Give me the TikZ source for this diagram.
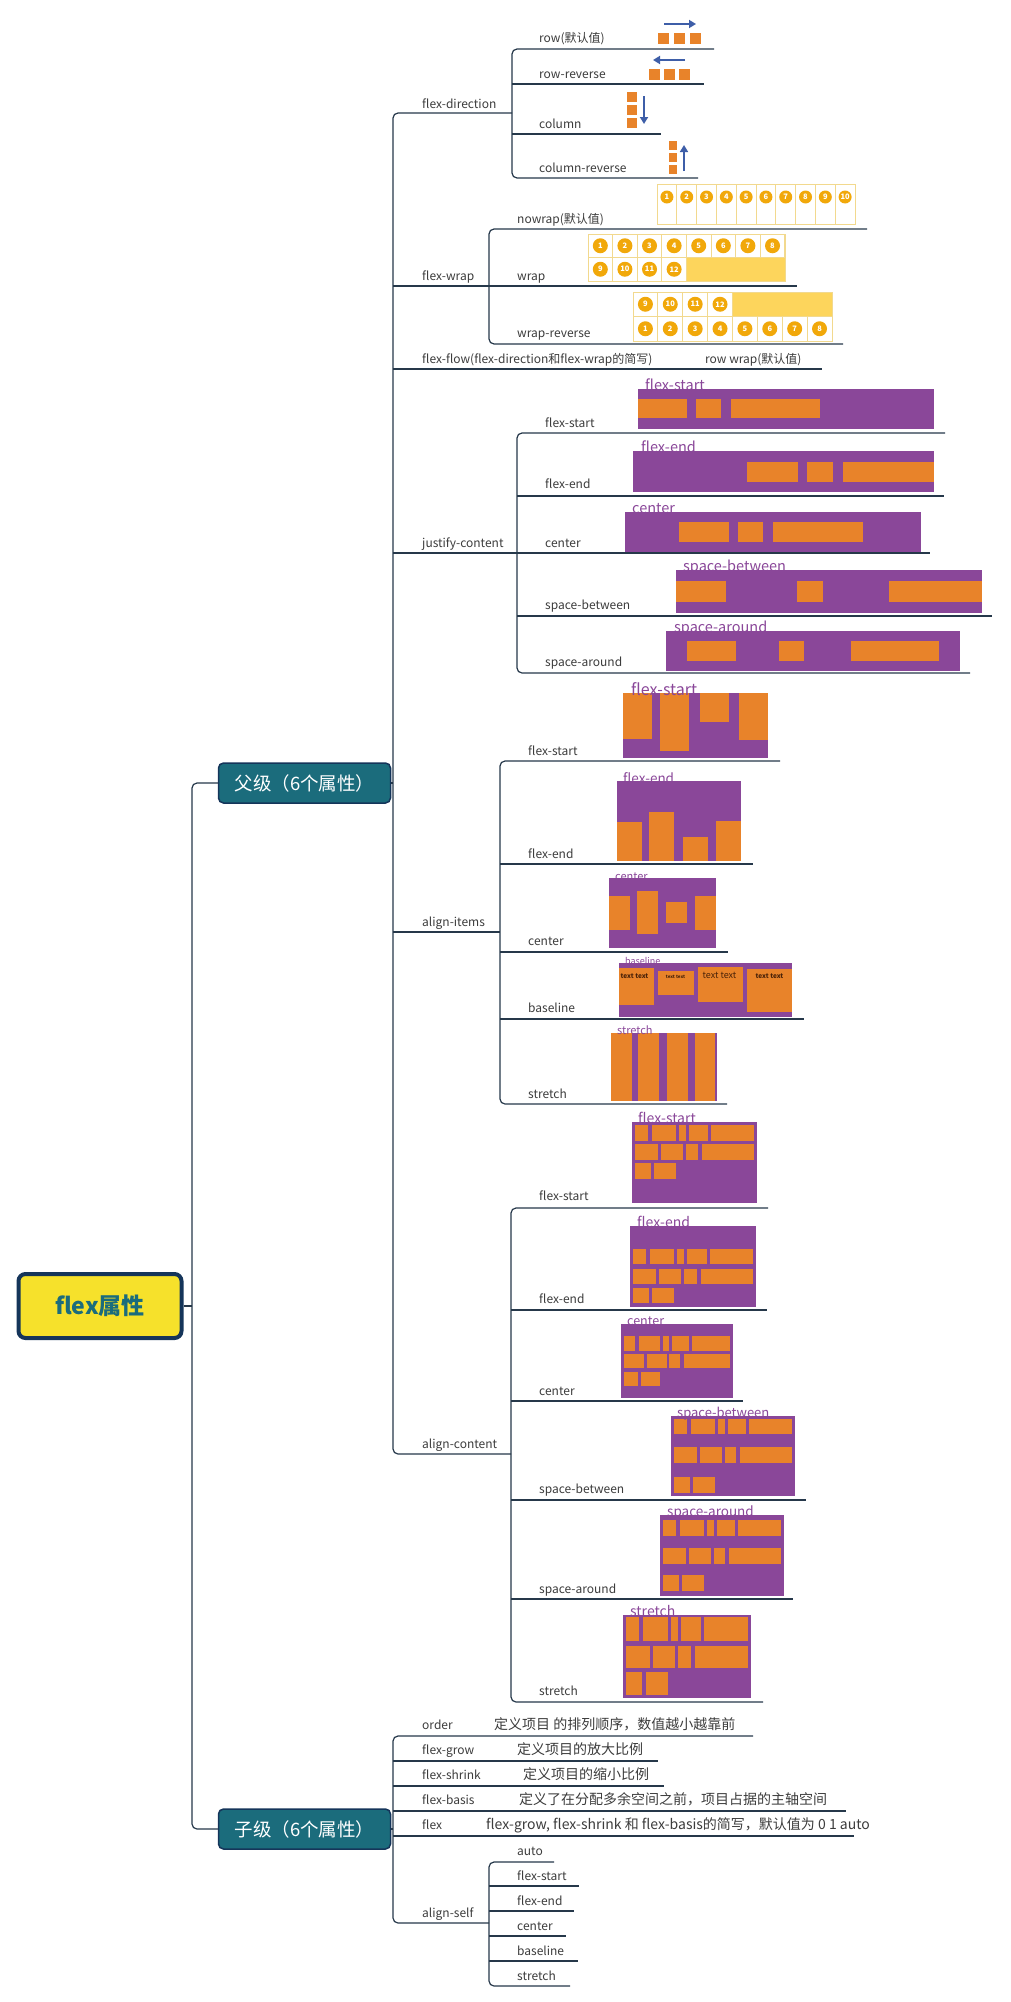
\documentclass[tikz,border=0pt]{standalone}
\usepackage{fontspec}
\setmainfont{Noto Sans CJK SC}
\usetikzlibrary{positioning,arrows.meta}

\definecolor{branch}{HTML}{26384A}
\definecolor{txt}{HTML}{3C3C3C}
\definecolor{purp}{HTML}{8A4799}
\definecolor{orng}{HTML}{E8832A}
\definecolor{tealc}{HTML}{1B6C7C}
\definecolor{navy}{HTML}{15355A}
\definecolor{rootfill}{HTML}{F6E12B}
\definecolor{arrowblue}{HTML}{3E5EA8}
\definecolor{cellline}{HTML}{F2D98E}
\definecolor{cellfill}{HTML}{FDD55C}
\definecolor{ballc}{HTML}{F1A80A}
\definecolor{inktext}{HTML}{4A2208}

\tikzset{
    x=1pt,
    y=-1pt,
    >={Triangle[length=7pt,width=8pt]},
    br/.style = {
        draw=branch,
        line width=1.2pt
    },
    trunk/.style = {
        br,
        rounded corners=5pt
    },
    lbl/.style = {
        anchor=base west,
        inner sep=0pt,
        text=txt,
        font=\fontsize{12}{14}\selectfont
    },
    desc/.style = {
        lbl,
        font=\fontsize{14}{16}\selectfont
    },
    root/.style = {
        draw=navy,
        fill=rootfill,
        line width=4pt,
        rounded corners=7pt,
        minimum width=163pt,
        minimum height=64pt,
        text=tealc,
        font=\bfseries\fontsize{23}{25}\selectfont
    },
    grpbox/.style = {
        draw=navy,
        fill=tealc,
        line width=1.5pt,
        rounded corners=5pt,
        minimum width=172pt,
        minimum height=40pt,
        text=white,
        font=\fontsize{18.5}{20}\selectfont
    },
    ptag/.style = {
        anchor=base west,
        inner sep=0pt,
        text=purp
    },
    pbg/.style = {fill=purp},
    sq/.style = {fill=orng},
    dir/.style = {
        ->,
        draw=arrowblue,
        line width=2.2pt
    },
    cell/.style = {
        draw=cellline,
        line width=0.9pt
    },
    ball/.style = {
        circle,
        fill=ballc,
        inner sep=0pt,
        minimum size=13pt,
        text=white,
        font=\bfseries\fontsize{7.5}{8}\selectfont
    },
    sample/.style = {
        anchor=base,
        inner sep=0pt,
        text=inktext,
        font=\bfseries
    },
}

\begin{document}
\begin{tikzpicture}
    \fill[white] (0,0) rectangle (1011,2002);

    % root and the two groups
    \node[root] (flex) at (100,1306) {flex属性};
    \node[grpbox] (parent) at (304.5,783) {父级（6个属性）};
    \node[grpbox] (child) at (304.5,1829) {子级（6个属性）};
    \coordinate (rootj) at (192,1306);
    \path[br] (flex.east) -- (rootj);
    \path[trunk] (parent.west) -| (rootj) |- (child.west);

    % parent branches
    \coordinate (pj) at (393,783);
    \coordinate (fdj) at (512,113);
    \coordinate (fwj) at (489,286);
    \coordinate (ffe) at (822,369);
    \coordinate (jcj) at (517,553);
    \coordinate (aij) at (500,932);
    \coordinate (acj) at (511,1454);
    \path[br] (parent.east) -- (pj);
    \path[trunk] (fdj) -| (pj) |- (acj);
    \path[br] (pj |- fwj) -- (fwj);
    \path[br] (pj |- ffe) -- (ffe);
    \path[br] (pj |- jcj) -- (jcj);
    \path[br] (pj |- aij) -- (aij);

    % flex-direction
    \node[lbl] (fd) at (422,108) {flex-direction};
    \coordinate (rowe) at (714,49);
    \coordinate (rrve) at (704,84);
    \coordinate (cole) at (661,134);
    \coordinate (crve) at (698,178);
    \path[trunk] (rowe) -| (fdj) |- (crve);
    \path[br] (fdj |- rrve) -- (rrve);
    \path[br] (fdj |- cole) -- (cole);
    \node[lbl] (row) at (539,43) {row(默认值)};
    \node[lbl] (rowrev) at (539,78) {row-reverse};
    \node[lbl] (col) at (539,128) {column};
    \node[lbl] (colrev) at (539,172) {column-reverse};
    \draw[dir] (664,24) -- (696,24);
    \foreach \i in {0,1,2} \fill[sq] (658+16*\i,33) rectangle ++(11,11);
    \draw[dir] (685,60) -- (653,60);
    \foreach \i in {0,1,2} \fill[sq] (649+15*\i,69) rectangle ++(11,11);
    \foreach \i in {0,1,2} \fill[sq] (627,92+13*\i) rectangle ++(10,10);
    \draw[dir] (644,96) -- (644,124);
    \foreach \i in {0,1,2} \fill[sq] (669,141+12*\i) rectangle ++(8,9);
    \draw[dir, line width=1.6pt] (684,171) -- (684,145);

    % flex-wrap
    \node[lbl] (fw) at (422,280) {flex-wrap};
    \coordinate (nwe) at (867,229);
    \coordinate (wre) at (797,286);
    \coordinate (wrre) at (843,344);
    \path[trunk] (nwe) -| (fwj) |- (wrre);
    \path[br] (fwj) -- (wre);
    \node[lbl] (nowrap) at (517,223) {nowrap(默认值)};
    \node[lbl] (wrap) at (517,280) {wrap};
    \node[lbl] (wraprev) at (517,337) {wrap-reverse};
    \foreach \i [count=\n] in {0,...,9} {
        \draw[cell] (657+19.8*\i,184) rectangle ++(19.8,40);
        \node[ball] (nw\n) at (666.9+19.8*\i,197) {\n};
    }
    \fill[cellfill] (686.4,257.5) rectangle (785,281);
    \foreach \i [count=\n] in {0,...,7} {
        \draw[cell] (588+24.6*\i,234) rectangle ++(24.6,23.5);
        \node[ball, minimum size=15pt] (wa\n) at (600.3+24.6*\i,245.75) {\n};
    }
    \foreach \i [count=\n from 9] in {0,...,3} {
        \draw[cell] (588+24.6*\i,257.5) rectangle ++(24.6,23.5);
        \node[ball, minimum size=15pt] (wb\n) at (600.3+24.6*\i,269.25) {\n};
    }
    \draw[cell] (588,234) rectangle (785,281);
    \fill[cellfill] (732.5,292) rectangle (832,316.5);
    \foreach \i [count=\n from 9] in {0,...,3} {
        \draw[cell] (633+24.875*\i,292) rectangle ++(24.875,24.5);
        \node[ball, minimum size=15pt] (ra\n) at (645.4+24.875*\i,304.25) {\n};
    }
    \foreach \i [count=\n] in {0,...,7} {
        \draw[cell] (633+24.875*\i,316.5) rectangle ++(24.875,24.5);
        \node[ball, minimum size=15pt] (rb\n) at (645.4+24.875*\i,328.75) {\n};
    }
    \draw[cell] (633,292) rectangle (832,341);

    % flex-flow
    \node[lbl] (ff) at (422,363) {flex-flow(flex-direction和flex-wrap的简写)};
    \node[lbl] (ffdef) at (705,363) {row wrap(默认值)};

    % justify-content
    \node[lbl] (jc) at (422,547) {justify-content};
    \coordinate (jfse) at (945,433);
    \coordinate (jfee) at (944,496);
    \coordinate (jcee) at (930,553);
    \coordinate (jsbe) at (992,616);
    \coordinate (jsae) at (970,673);
    \path[trunk] (jfse) -| (jcj) |- (jsae);
    \path[br] (jcj |- jfee) -- (jfee);
    \path[br] (jcj) -- (jcee);
    \path[br] (jcj |- jsbe) -- (jsbe);
    \node[lbl] (jcfs) at (545,427) {flex-start};
    \node[lbl] (jcfe) at (545,488) {flex-end};
    \node[lbl] (jcce) at (545,547) {center};
    \node[lbl] (jcsb) at (545,609) {space-between};
    \node[lbl] (jcsa) at (545,666) {space-around};
    \fill[pbg] (638,389) rectangle (934,429);
    \foreach \a/\b in {638/687,696/721,731/820} \fill[sq] (\a,399) rectangle (\b,418);
    \node[ptag, font=\fontsize{14.5}{15}\selectfont] (jcfst) at (645,390) {flex-start};
    \fill[pbg] (633,451) rectangle (934,492);
    \foreach \a/\b in {747/798,807/833,843/934} \fill[sq] (\a,462) rectangle (\b,482);
    \node[ptag, font=\fontsize{14.5}{15}\selectfont] (jcfet) at (641,452) {flex-end};
    \fill[pbg] (625,512) rectangle (921,552);
    \foreach \a/\b in {679/729,738/763,773/863} \fill[sq] (\a,522) rectangle (\b,542);
    \node[ptag, font=\fontsize{14.5}{15}\selectfont] (jccet) at (632,513) {center};
    \fill[pbg] (676,570) rectangle (982,613);
    \foreach \a/\b in {676/726,797/823,889/982} \fill[sq] (\a,581) rectangle (\b,602);
    \node[ptag, font=\fontsize{14.5}{15}\selectfont] (jcsbt) at (683,571) {space-between};
    \fill[pbg] (666,631) rectangle (960,671);
    \foreach \a/\b in {687/736,779/804,851/939} \fill[sq] (\a,641) rectangle (\b,661);
    \node[ptag, font=\fontsize{14.5}{15}\selectfont] (jcsat) at (674,632) {space-around};

    % align-items
    \node[lbl] (ai) at (422,926) {align-items};
    \coordinate (afse) at (780,761);
    \coordinate (afee) at (753,864);
    \coordinate (acee) at (728,952);
    \coordinate (able) at (804,1019);
    \coordinate (aste) at (727,1104);
    \path[trunk] (afse) -| (aij) |- (aste);
    \path[br] (aij |- afee) -- (afee);
    \path[br] (aij |- acee) -- (acee);
    \path[br] (aij |- able) -- (able);
    \node[lbl] (aifs) at (528,755) {flex-start};
    \node[lbl] (aife) at (528,858) {flex-end};
    \node[lbl] (aice) at (528,945) {center};
    \node[lbl] (aibl) at (528,1012) {baseline};
    \node[lbl] (aist) at (528,1098) {stretch};
    \fill[pbg] (623,693) rectangle (768,758);
    \foreach \a/\b/\c in {623/652/739,660/689/751,700/729/722,739/768/740} \fill[sq] (\a,693) rectangle (\b,\c);
    \node[ptag, font=\fontsize{16}{16}\selectfont] (aifst) at (631,695) {flex-start};
    \fill[pbg] (617,781) rectangle (741,861);
    \foreach \a/\b/\c in {617/642/822,649/674/812,683/708/837,716/741/821} \fill[sq] (\a,\c) rectangle (\b,861);
    \node[ptag, font=\fontsize{13.5}{14}\selectfont] (aifet) at (623,783) {flex-end};
    \fill[pbg] (609,878) rectangle (716,948);
    \foreach \a/\b/\c/\d in {609/630/896/930,637/658/891/934,666/687/902/923,695/716/896/930} \fill[sq] (\a,\c) rectangle (\b,\d);
    \node[ptag, font=\fontsize{11}{12}\selectfont] (aicet) at (615,880) {center};
    \fill[pbg] (619,963) rectangle (792,1017);
    \foreach \a/\b/\c/\d in {619/654/968/1005,658/694/971/995,698/743/967/1002,747/792/969/1012} \fill[sq] (\a,\c) rectangle (\b,\d);
    \node[ptag, font=\fontsize{9}{10}\selectfont] (aiblt) at (625,964) {baseline};
    \node[sample, font=\bfseries\fontsize{6.5}{7}\selectfont] (bt1) at (634.5,978) {text text};
    \node[sample, font=\bfseries\fontsize{4.5}{5}\selectfont] (bt2) at (675.5,978) {text text};
    \node[sample, font=\fontsize{9}{10}\selectfont] (bt3) at (719.5,978) {text text};
    \node[sample, font=\bfseries\fontsize{6.5}{7}\selectfont] (bt4) at (769.5,978) {text text};
    \fill[pbg] (611,1033) rectangle (717,1101);
    \foreach \a/\b in {611/632,638/659,667/688,695/715} \fill[sq] (\a,1033) rectangle (\b,1101);
    \node[ptag, font=\fontsize{11}{12}\selectfont] (aistt) at (617,1034) {stretch};

    % align-content
    \node[lbl] (ac) at (422,1448) {align-content};
    \coordinate (cfse) at (768,1208);
    \coordinate (cfee) at (767,1310);
    \coordinate (ccee) at (743,1401);
    \coordinate (csbe) at (806,1500);
    \coordinate (csae) at (793,1599);
    \coordinate (cste) at (763,1702);
    \path[trunk] (cfse) -| (acj) |- (cste);
    \path[br] (acj |- cfee) -- (cfee);
    \path[br] (acj |- ccee) -- (ccee);
    \path[br] (acj |- csbe) -- (csbe);
    \path[br] (acj |- csae) -- (csae);
    \node[lbl] (acfs) at (539,1200) {flex-start};
    \node[lbl] (acfe) at (539,1303) {flex-end};
    \node[lbl] (acce) at (539,1395) {center};
    \node[lbl] (acsb) at (539,1493) {space-between};
    \node[lbl] (acsa) at (539,1593) {space-around};
    \node[lbl] (acst) at (539,1695) {stretch};
    \begin{scope}[shift={(632,1122)}]
        \fill[pbg] (0,0) rectangle (125,81);
        \foreach \a/\b in {3/16,20/44,47/54,57/76,79/122} \fill[sq] (\a,3) rectangle (\b,19);
        \foreach \a/\b in {3/26,29/51,54/66,70/122} \fill[sq] (\a,22) rectangle (\b,38);
        \foreach \a/\b in {3/19,22/44} \fill[sq] (\a,41) rectangle (\b,57);
    \end{scope}
    \node[ptag, font=\fontsize{14}{14}\selectfont] (acfst) at (638,1123) {flex-start};
    \begin{scope}[shift={(630,1226)}, xscale=1.008]
        \fill[pbg] (0,0) rectangle (125,81);
        \foreach \a/\b in {3/16,20/44,47/54,57/76,79/122} \fill[sq] (\a,23) rectangle (\b,38);
        \foreach \a/\b in {3/26,29/51,54/66,70/122} \fill[sq] (\a,43) rectangle (\b,58);
        \foreach \a/\b in {3/19,22/44} \fill[sq] (\a,62) rectangle (\b,77);
    \end{scope}
    \node[ptag, font=\fontsize{14}{14}\selectfont] (acfet) at (637,1227) {flex-end};
    \begin{scope}[shift={(621,1324)}, xscale=0.896]
        \fill[pbg] (0,0) rectangle (125,74);
        \foreach \a/\b in {3/16,20/44,47/54,57/76,79/122} \fill[sq] (\a,12) rectangle (\b,27);
        \foreach \a/\b in {3/26,29/51,54/66,70/122} \fill[sq] (\a,30) rectangle (\b,44);
        \foreach \a/\b in {3/19,22/44} \fill[sq] (\a,48) rectangle (\b,62);
    \end{scope}
    \node[ptag, font=\fontsize{12.5}{13}\selectfont] (accet) at (627,1325) {center};
    \begin{scope}[shift={(671,1416)}, xscale=0.992]
        \fill[pbg] (0,0) rectangle (125,80);
        \foreach \a/\b in {3/16,20/44,47/54,57/76,79/122} \fill[sq] (\a,3) rectangle (\b,18);
        \foreach \a/\b in {3/26,29/51,54/66,70/122} \fill[sq] (\a,31) rectangle (\b,47);
        \foreach \a/\b in {3/19,22/44} \fill[sq] (\a,61) rectangle (\b,77);
    \end{scope}
    \node[ptag, font=\fontsize{13}{14}\selectfont] (acsbt) at (677,1417) {space-between};
    \begin{scope}[shift={(660,1515)}, xscale=0.992]
        \fill[pbg] (0,0) rectangle (125,81);
        \foreach \a/\b in {3/16,20/44,47/54,57/76,79/122} \fill[sq] (\a,5) rectangle (\b,21);
        \foreach \a/\b in {3/26,29/51,54/66,70/122} \fill[sq] (\a,33) rectangle (\b,49);
        \foreach \a/\b in {3/19,22/44} \fill[sq] (\a,60) rectangle (\b,76);
    \end{scope}
    \node[ptag, font=\fontsize{13.5}{14}\selectfont] (acsat) at (667,1516) {space-around};
    \begin{scope}[shift={(623,1615)}, xscale=1.024]
        \fill[pbg] (0,0) rectangle (125,83);
        \foreach \a/\b in {3/16,20/44,47/54,57/76,79/122} \fill[sq] (\a,2) rectangle (\b,26);
        \foreach \a/\b in {3/26,29/51,54/66,70/122} \fill[sq] (\a,31) rectangle (\b,53);
        \foreach \a/\b in {3/19,22/44} \fill[sq] (\a,57) rectangle (\b,80);
    \end{scope}
    \node[ptag, font=\fontsize{14}{14}\selectfont] (acstt) at (630,1616) {stretch};

    % child branches
    \coordinate (kj) at (393,1829);
    \coordinate (ore) at (753,1736);
    \coordinate (fge) at (658,1761);
    \coordinate (fshe) at (664,1786);
    \coordinate (fbe) at (846,1811);
    \coordinate (fle) at (854,1836);
    \coordinate (asj) at (489,1923);
    \path[br] (child.east) -- (kj);
    \path[trunk] (ore) -| (kj) |- (asj);
    \path[br] (kj |- fge) -- (fge);
    \path[br] (kj |- fshe) -- (fshe);
    \path[br] (kj |- fbe) -- (fbe);
    \path[br] (kj |- fle) -- (fle);
    \node[lbl] (order) at (422,1729) {order};
    \node[lbl] (grow) at (422,1754) {flex-grow};
    \node[lbl] (shrink) at (422,1779) {flex-shrink};
    \node[lbl] (basis) at (422,1804) {flex-basis};
    \node[lbl] (flx) at (422,1829) {flex};
    \node[lbl] (aself) at (422,1917) {align-self};
    \node[desc] (orderd) at (494,1729) {定义项目 的排列顺序，数值越小越靠前};
    \node[desc] (growd) at (517,1754) {定义项目的放大比例};
    \node[desc] (shrinkd) at (523,1779) {定义项目的缩小比例};
    \node[desc] (basisd) at (519,1804) {定义了在分配多余空间之前，项目占据的主轴空间};
    \node[desc] (flxd) at (486,1829) {flex-grow, flex-shrink 和 flex-basis的简写，默认值为 0 1 auto};

    % align-self
    \coordinate (saue) at (554,1862);
    \coordinate (sfse) at (579,1886);
    \coordinate (sfee) at (574,1911);
    \coordinate (scee) at (566,1936);
    \coordinate (sble) at (578,1961);
    \coordinate (sste) at (570,1986);
    \path[trunk] (saue) -| (asj) |- (sste);
    \path[br] (asj |- sfse) -- (sfse);
    \path[br] (asj |- sfee) -- (sfee);
    \path[br] (asj |- scee) -- (scee);
    \path[br] (asj |- sble) -- (sble);
    \node[lbl] (sau) at (517,1855) {auto};
    \node[lbl] (sfs) at (517,1880) {flex-start};
    \node[lbl] (sfe) at (517,1905) {flex-end};
    \node[lbl] (sce) at (517,1930) {center};
    \node[lbl] (sbl) at (517,1955) {baseline};
    \node[lbl] (sst) at (517,1980) {stretch};
\end{tikzpicture}
\end{document}
